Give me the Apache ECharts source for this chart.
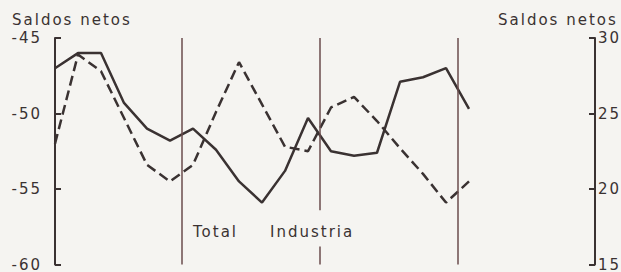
<!DOCTYPE html>
<html>
<head>
<meta charset="utf-8">
<script src="https://cdn.jsdelivr.net/npm/echarts@6/dist/echarts.min.js"></script>
<style>
    html, body { margin: 0; padding: 0; background: #f5f4f1; }
    #chart { width: 621px; height: 272px; }
    /* the scanned lettering is widely spaced */
    #chart text { letter-spacing: 2px; }
</style>
</head>
<body>
<div id="chart"></div>
<script>
// bimonthly points, 6 per year, separators between years
var periods = [0, 1, 2, 3, 4, 5, 6, 7, 8, 9, 10, 11, 12, 13, 14, 15, 16, 17, 18];
// solid line, left axis
var totalValues = [-47.0, -46.0, -46.0, -49.3, -51.0, -51.8, -51.0, -52.4, -54.5, -55.9,
                   -53.8, -50.3, -52.5, -52.8, -52.6, -47.9, -47.6, -47.0, -49.7];
// dashed line, right axis
var industriaValues = [23.0, 28.9, 27.8, 24.7, 21.6, 20.5, 21.6, 25.1, 28.4, 25.6,
                       22.8, 22.5, 25.4, 26.1, 24.5, 22.7, 21.0, 19.1, 20.5];
var yearBreaks = [5.5, 11.5, 17.5];
var leftTicks = [-60, -55, -50, -45];
var rightTicks = [15, 20, 25, 30];

(function () {
    'use strict';
    var ink = '#3a3232';
    var rule = '#6a4c4c';
    var font = 'DejaVu Sans';

    var totalData = [];
    var industriaData = [];
    for (var i = 0; i < periods.length; i++) {
        totalData.push([periods[i], totalValues[i]]);
        industriaData.push([periods[i], industriaValues[i]]);
    }

    // year separator lines (the middle one is cut for the label)
    var breakLines = [
        [{coord: [yearBreaks[0], -45]}, {coord: [yearBreaks[0], -60]}],
        [{coord: [yearBreaks[1], -45]}, {coord: [yearBreaks[1], -56.4]}],
        [{coord: [yearBreaks[1], -58.8]}, {coord: [yearBreaks[1], -60]}],
        [{coord: [yearBreaks[2], -45]}, {coord: [yearBreaks[2], -60]}]
    ];

    var myChart = echarts.init(document.getElementById('chart'), null, {renderer: 'svg'});
    var option = {
        backgroundColor: '#f5f4f1',
        animation: false,
        grid: {left: 45, right: 26, top: 38, bottom: 6},
        xAxis: {
            type: 'value',
            min: -0.435,
            max: 23.478,
            show: false
        },
        yAxis: [
            {
                type: 'value',
                min: leftTicks[0],
                max: leftTicks[leftTicks.length - 1],
                interval: 5,
                position: 'left',
                splitLine: {show: false},
                axisLine: {show: true, lineStyle: {color: ink, width: 2}},
                axisTick: {show: true, inside: true, length: 6, lineStyle: {color: ink, width: 2}},
                axisLabel: {color: ink, fontFamily: font, fontSize: 15, margin: 3}
            },
            {
                type: 'value',
                min: rightTicks[0],
                max: rightTicks[rightTicks.length - 1],
                interval: 5,
                position: 'right',
                splitLine: {show: false},
                axisLine: {show: true, lineStyle: {color: ink, width: 2}},
                axisTick: {show: true, inside: true, length: 6, lineStyle: {color: ink, width: 2}},
                axisLabel: {color: ink, fontFamily: font, fontSize: 15, margin: 3}
            }
        ],
        graphic: [
            {type: 'text', left: 12, top: 12, style: {text: 'Saldos netos', fill: ink, font: '15px "DejaVu Sans"'}},
            {type: 'text', left: 498, top: 12, style: {text: 'Saldos netos', fill: ink, font: '15px "DejaVu Sans"'}},
            {type: 'text', left: 193, top: 224, style: {text: 'Total', fill: ink, font: '15px "DejaVu Sans"'}},
            {type: 'text', left: 270, top: 224, style: {text: 'Industria', fill: ink, font: '15px "DejaVu Sans"'}}
        ],
        series: [
            {
                name: 'Total',
                type: 'line',
                yAxisIndex: 0,
                data: totalData,
                symbol: 'none',
                lineStyle: {color: ink, width: 2.5},
                markLine: {
                    silent: true,
                    symbol: 'none',
                    label: {show: false},
                    lineStyle: {color: rule, width: 1.5, type: 'solid'},
                    data: breakLines
                },
                z: 3
            },
            {
                name: 'Industria',
                type: 'line',
                yAxisIndex: 1,
                data: industriaData,
                symbol: 'none',
                lineStyle: {color: ink, width: 2.5, type: [10, 5]},
                z: 3
            }
        ]
    };
    myChart.setOption(option);
})();
</script>
</body>
</html>
